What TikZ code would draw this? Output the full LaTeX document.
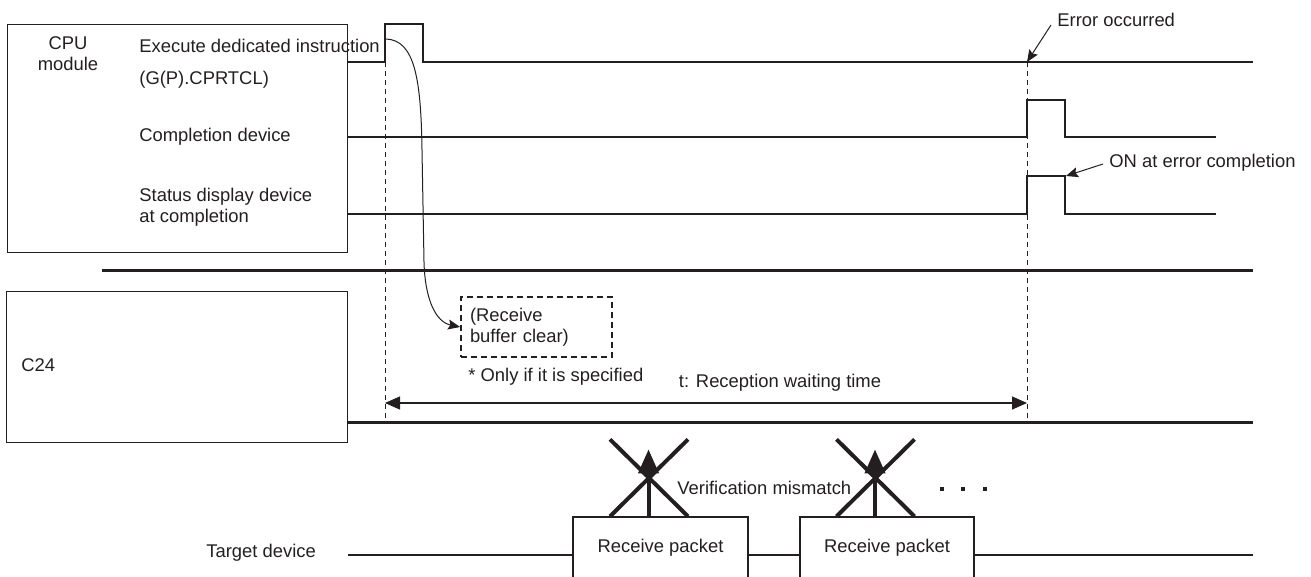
\documentclass[tikz,border=0pt]{standalone}
\usepackage{fontspec}
\setmainfont{Liberation Sans}
\usepackage{tikz}
\usetikzlibrary{arrows.meta,positioning}
\definecolor{inkgray}{HTML}{231F20}

\begin{document}
\begin{tikzpicture}[
  x=0.5pt,y=-0.5pt,
  font=\fontsize{9.2}{10.5}\selectfont,
  every node/.style={text=inkgray},
  unitbox/.style={draw=inkgray,line width=0.6pt,anchor=north west,inner sep=0pt},
  lbl/.style={anchor=west,inner sep=0pt,align=left},
  sig/.style={draw=inkgray,line width=0.75pt},
  divider/.style={draw=inkgray,line width=1.5pt},
  guide/.style={draw=inkgray,line width=0.5pt,dash pattern=on 2.5pt off 2pt},
  callout/.style={-{Stealth[length=6pt,width=5pt,inset=1pt]},draw=inkgray,line width=0.5pt},
  span/.style={{Triangle[length=7.5pt,width=6.5pt]}-{Triangle[length=7.5pt,width=6.5pt]},draw=inkgray,line width=0.6pt},
  cross/.style={draw=inkgray,line width=2pt},
  blocked/.style={-{Triangle[length=12pt,width=10pt]},draw=inkgray,line width=2pt},
  packet/.style={draw=inkgray,fill=white,line width=0.6pt,minimum height=31pt,inner sep=0pt}
]
  \useasboundingbox (0,0) rectangle (1311,577);
  \clip (0,0) rectangle (1311,577);

  % units
  \node[unitbox,minimum width=170pt,minimum height=114pt] (cpu) at (7,24) {};
  \node[unitbox,minimum width=170.5pt,minimum height=75.5pt] (c24box) at (6,291) {};
  \node[align=center,inner sep=0pt] (cpulbl) at (68,54) {CPU\\module};
  \node[lbl] (c24lbl) at (21,365) {C24};
  \node[lbl] (execlbl) at (139,46) {Execute dedicated instruction};
  \node[lbl] (instlbl) at (139,80) {(G(P).CPRTCL)};
  \node[lbl] (compllbl) at (139,137) {Completion device};
  \node[lbl] (statlbl) at (139,207) {Status display device\\at completion};
  \node[lbl] (tgtlbl) at (206,553) {Target device};

  % signals
  \draw[sig] (348,62) -- (385,62) -- (385,24) -- (423,24) -- (423,62) -- (1253,62);
  \draw[sig] (348,137) -- (1027,137) -- (1027,100) -- (1065,100) -- (1065,137) -- (1216,137);
  \draw[sig] (348,214) -- (1027,214) -- (1027,176) -- (1065,176) -- (1065,214) -- (1216,214);
  \draw[divider] (102,271) -- (1253,271);
  \draw[divider] (348,422) -- (1253,422);
  \draw[draw=inkgray,line width=1pt] (348,555) -- (1253,555);

  \coordinate (start) at (385,62);
  \coordinate (err) at (1027,62);
  \draw[guide] (start) -- (385,422);
  \draw[guide] (err) -- (1027,422);

  % callouts
  \node[lbl] (errlbl) at (1057,20) {Error occurred};
  \coordinate (errtail) at (1051,25);
  \draw[callout] (errtail) -- (err);
  \node[lbl] (onlbl) at (1109,163) {ON at error completion};
  \coordinate (ontail) at (1103,164);
  \coordinate (onpt) at (1066,176);
  \draw[callout] (ontail) -- (onpt);

  % receive buffer clear
  \node[draw=inkgray,line width=0.9pt,dash pattern=on 3pt off 2pt,text width=66.5pt,
        inner xsep=4.5pt,minimum height=30pt,align=left] (rbuf) at (536.5,327)
        {(Receive\\buffer clear)};
  \coordinate (pulse) at (386,39);
  \draw[callout] (pulse) .. controls (415,40) and (421,80) .. (422,150)
        -- (424,262) .. controls (425,300) and (436,322) .. (rbuf.west);
  \node[lbl] (onlylbl) at (468,377) {* Only if it is specified};

  \coordinate (tleft) at (385,403);
  \coordinate (tright) at (1027,403);
  \draw[span] (tleft) -- (tright);
  \node[inner sep=0pt] (tlbl) at (780,383) {t: Reception waiting time};

  % packets
  \node[packet,minimum width=87.5pt] (pk1) at (660.5,548) {Receive packet};
  \node[packet,minimum width=87pt] (pk2) at (887,548) {Receive packet};
  \foreach \p in {pk1,pk2} {
    \draw[blocked] ([xshift=-6pt]\p.north) -- ++(0,-67);
    \draw[cross] ([xshift=-25.25pt,yshift=38.5pt]\p.north) -- ++(78,77);
    \draw[cross] ([xshift=13.75pt,yshift=38.5pt]\p.north) -- ++(-78,77);
  }
  \node[lbl] (vmlbl) at (677,488) {Verification mismatch};
  \foreach \x in {942,963,985}
    \fill[inkgray] (\x-2,487) rectangle ++(4,4);
\end{tikzpicture}
\end{document}
